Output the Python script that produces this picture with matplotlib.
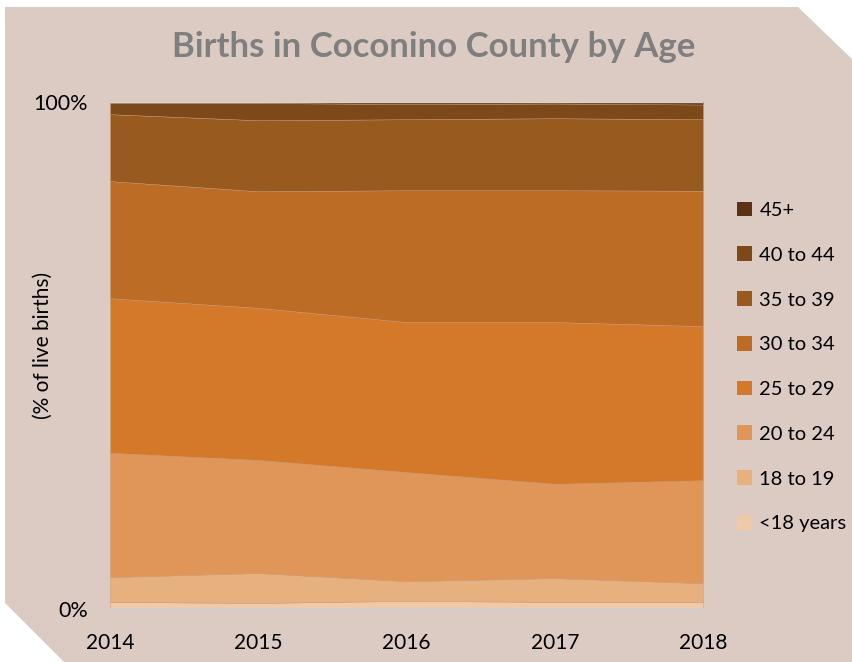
import numpy as np
import matplotlib.pyplot as plt
from matplotlib.patches import Polygon, Patch

plt.rcParams['font.family'] = ['Lato', 'DejaVu Sans']

# Share of live births by mother's age group (%)
years = [2014, 2015, 2016, 2017, 2018]
age_groups = ['<18 years', '18 to 19', '20 to 24', '25 to 29',
              '30 to 34', '35 to 39', '40 to 44', '45+']
under_18 = [1.4, 1.2, 1.6, 1.4, 1.4]
age_18_19 = [4.9, 5.9, 3.9, 4.7, 3.7]
age_20_24 = [24.5, 22.3, 21.5, 18.6, 20.3]
age_25_29 = [30.5, 30.0, 29.6, 31.9, 30.4]
age_30_34 = [23.1, 23.0, 26.0, 26.0, 26.7]
age_35_39 = [13.2, 14.0, 14.0, 14.2, 14.1]
age_40_44 = [2.2, 3.4, 3.0, 2.9, 2.9]
age_45_up = [0.2, 0.2, 0.4, 0.3, 0.5]

colors = ['#efc9a8', '#e6b07f', '#e09659', '#d4792a',
          '#bd6c26', '#995a20', '#7e4919', '#5b3216']

series = np.array([under_18, age_18_19, age_20_24, age_25_29,
                   age_30_34, age_35_39, age_40_44, age_45_up])
shares = series / series.sum(axis=0) * 100

fig = plt.figure(figsize=(8.53, 6.62), dpi=100)
fig.patch.set_facecolor('white')

# chamfered backdrop
W, H = 853, 662
pts = [(5, 7), (798, 7), (853, 60), (853, 662), (64, 662), (5, 603)]
bg = Polygon([(x / W, 1 - y / H) for x, y in pts], closed=True,
             transform=fig.transFigure, facecolor='#dccbc3', edgecolor='none', zorder=-5)
fig.patches.append(bg)

ax = fig.add_axes([110 / W, 1 - 609 / H, (703 - 110) / W, (609 - 102) / H], zorder=2)
ax.set_facecolor('none')
ax.stackplot(years, shares, colors=colors, labels=age_groups,
             edgecolor='#c89a78', linewidth=0.3)
ax.axhline(100, color='#d4d4d4', linewidth=1.0, zorder=3)

ax.set_xlim(2014, 2018)
ax.set_ylim(0, 100)
ax.set_xticks(years)
ax.set_yticks([0, 100])
ax.set_yticklabels(['0%', '100%'])
ax.tick_params(axis='y', length=0, labelsize=15.5, pad=16)
ax.tick_params(axis='x', length=6, color='#d0d0d0', width=1.2, labelsize=15, pad=11)
for s in ['top', 'right', 'left']:
    ax.spines[s].set_visible(False)
ax.spines['bottom'].set_color('#d0d0d0')
ax.spines['bottom'].set_linewidth(1.2)

ax.set_ylabel('(% of live births)', fontsize=15)
ax.yaxis.set_label_coords(-0.097, 0.52)

fig.text(434 / W, 1 - 47 / H, 'Births in Coconino County by Age',
         ha='center', va='center', fontsize=25, fontweight='bold', color='#7f7f7f')

handles = [Patch(facecolor=c, edgecolor='none') for c in colors]
fig.legend(handles[::-1], age_groups[::-1], loc='center left',
           bbox_to_anchor=(719 / W, 1 - 367 / H), frameon=False, fontsize=14.5,
           handlelength=0.75, handleheight=0.75, handletextpad=0.35,
           labelspacing=1.36)

fig.savefig('out.png', dpi=100)
